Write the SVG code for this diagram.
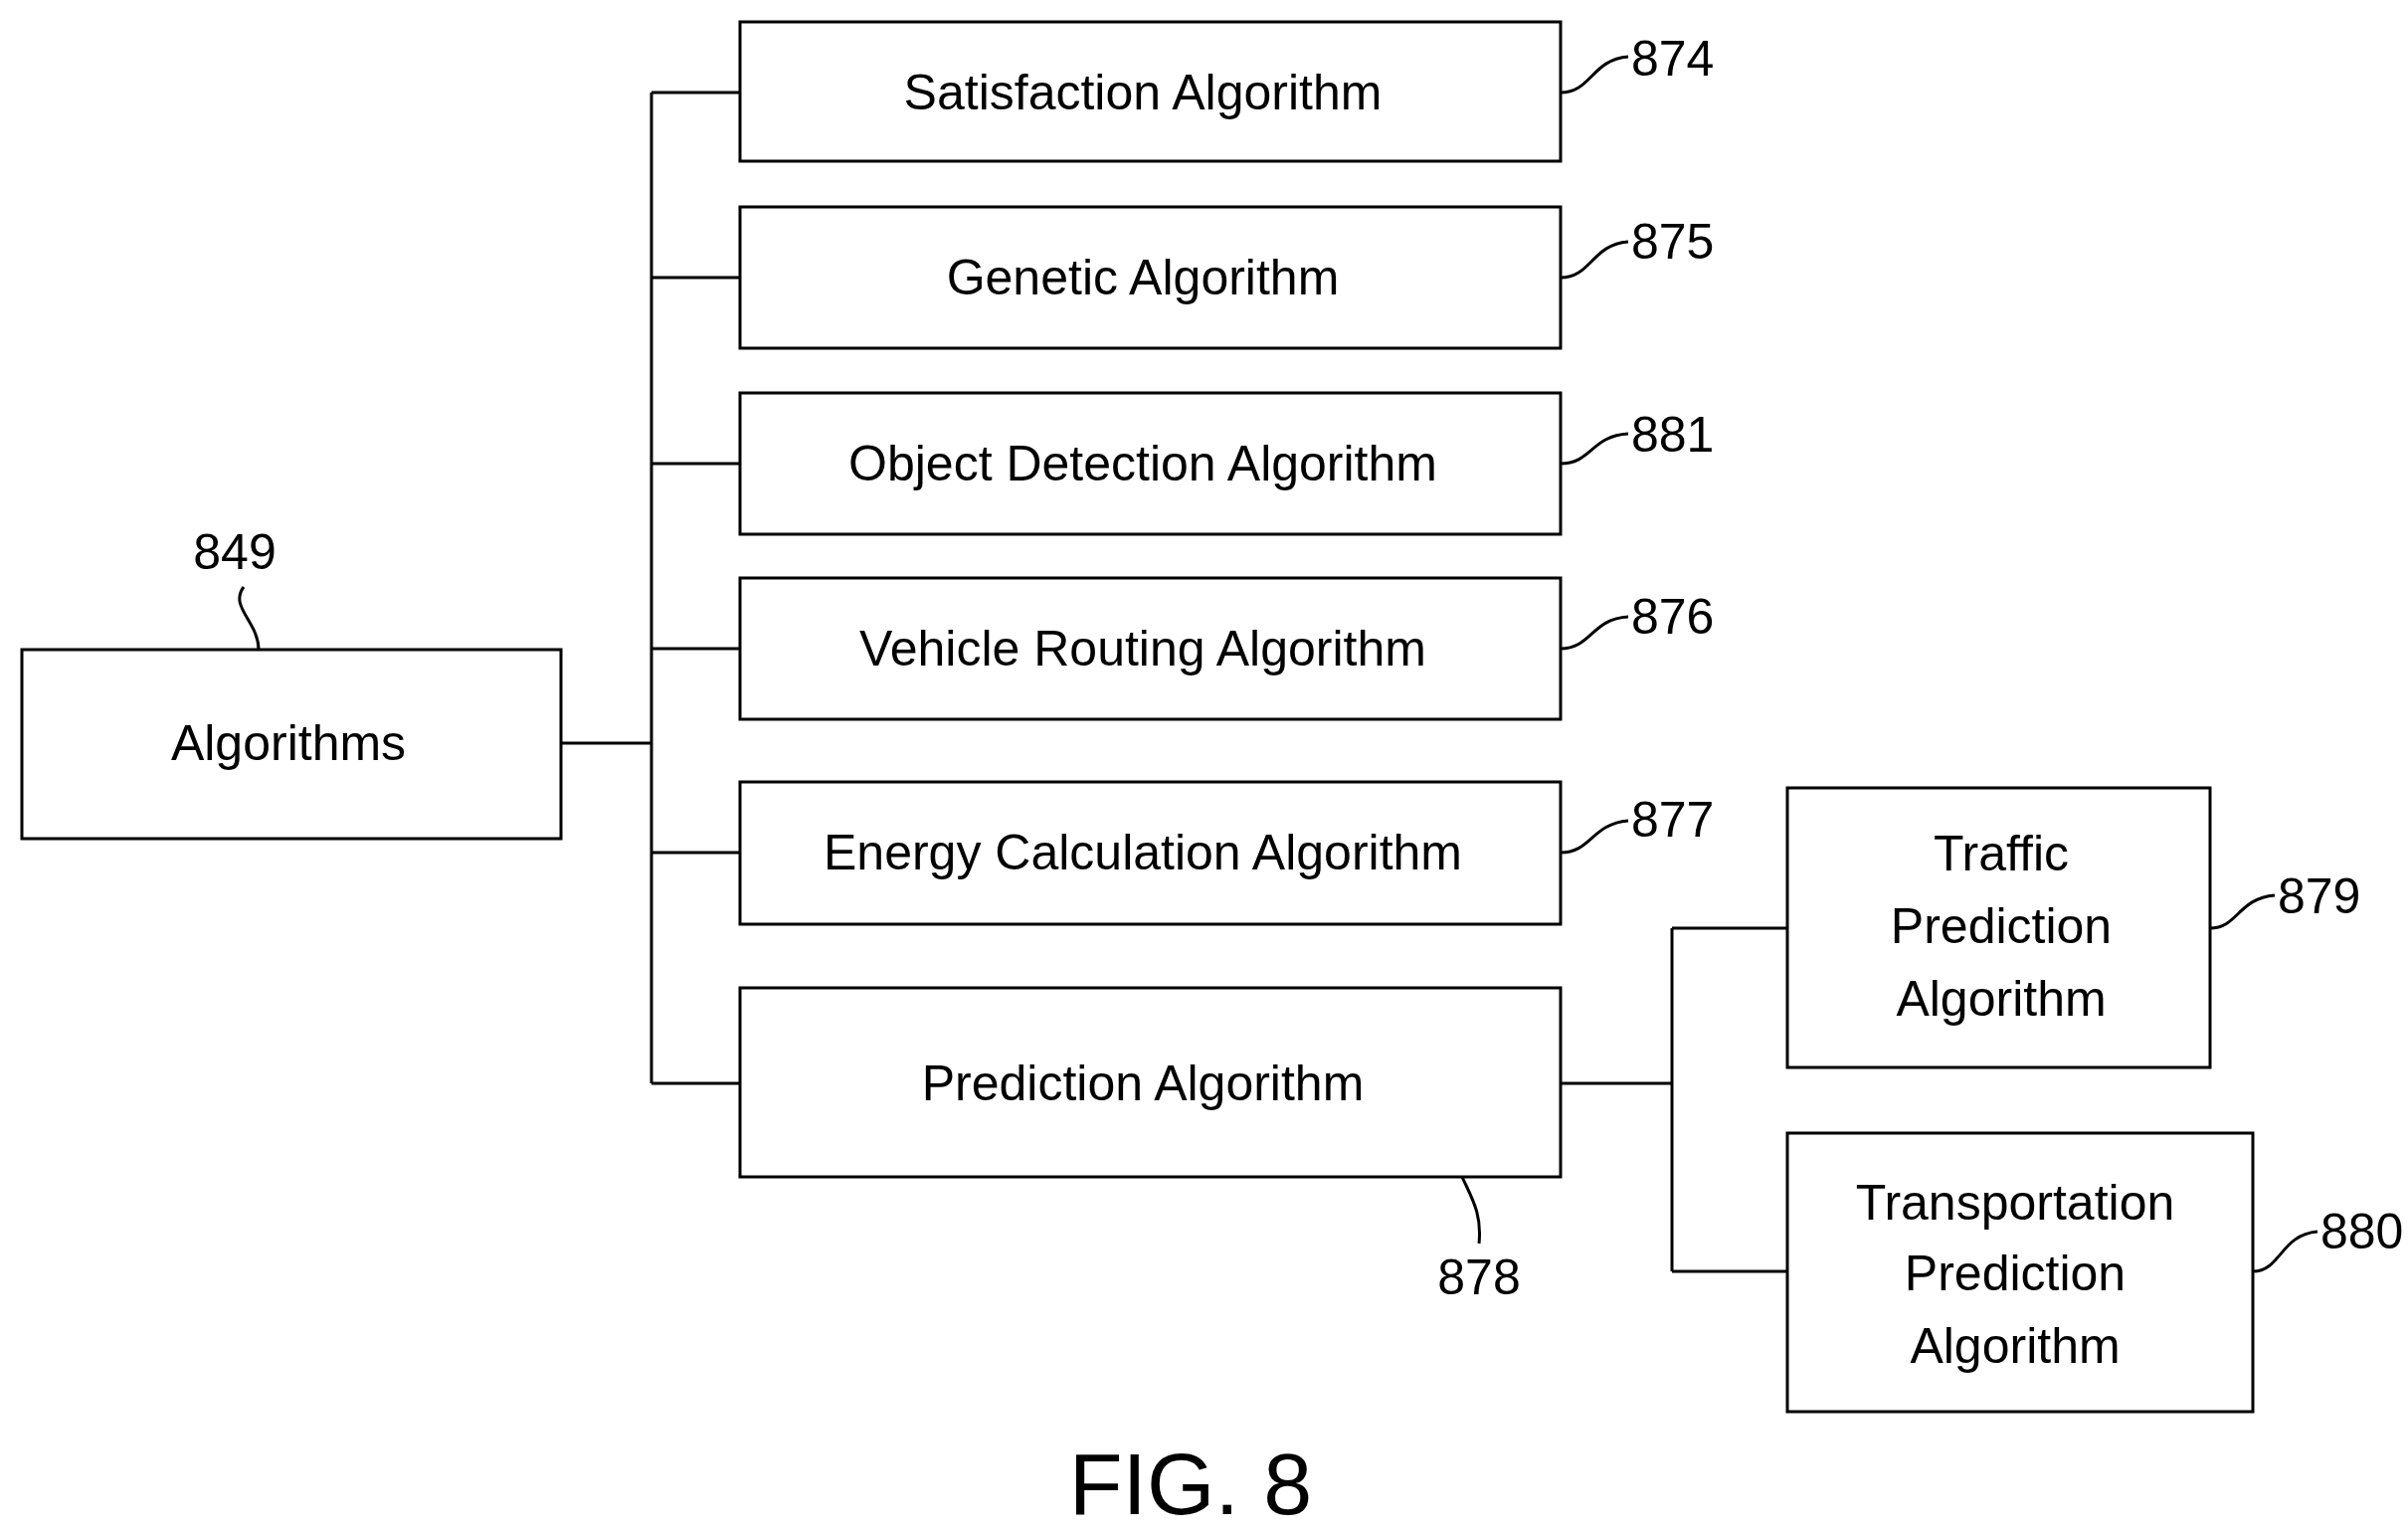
<svg xmlns="http://www.w3.org/2000/svg" width="2421" height="1545" viewBox="0 0 2421 1545">
<style>
.b{fill:#fff;stroke:#000;stroke-width:3}
.t{font-family:"Liberation Sans",Arial,sans-serif;font-size:50px;text-anchor:middle;dominant-baseline:central;transform-box:fill-box}
.n{font-family:"Liberation Sans",Arial,sans-serif;font-size:50px}
.c{fill:none;stroke:#000;stroke-width:3}
</style>
<rect width="2421" height="1545" fill="#fff"/>
<g id="connectors">
<path class="c" d="M564 747H655M655 93V1089M655 93H744M655 279H744M655 466H744M655 652H744M655 857H744M655 1089H744"/>
<path class="c" d="M1569 1089H1681M1681 933V1278M1681 933H1797M1681 1278H1797"/>
<path class="c" d="M1569 93C1600 93 1600 60 1637 57M1569 279C1600 279 1600 246 1637 243M1569 466C1600 466 1600 438 1637 436M1569 652C1600 652 1600 622 1637 620M1569 857C1600 857 1600 828 1637 825M2222 933C2250 933 2250 903 2287 900M2265 1278C2293 1278 2293 1241 2330 1238M245 590C230 610 260 625 260 653M1470 1183C1480 1205 1490 1220 1487 1250"/>
</g>
<g id="n849"><rect class="b" x="22" y="653" width="542" height="190"/><text class="t" x="290" y="747">Algorithms</text><text class="n" x="236" y="572" text-anchor="middle">849</text></g>
<g id="n874"><rect class="b" x="744" y="22" width="825" height="140"/><text class="t" x="1149" y="93">Satisfaction Algorithm</text><text class="n" x="1640" y="76">874</text></g>
<g id="n875"><rect class="b" x="744" y="208" width="825" height="142"/><text class="t" x="1149" y="279">Genetic Algorithm</text><text class="n" x="1640" y="260">875</text></g>
<g id="n881"><rect class="b" x="744" y="395" width="825" height="142"/><text class="t" x="1149" y="466">Object Detection Algorithm</text><text class="n" x="1640" y="454">881</text></g>
<g id="n876"><rect class="b" x="744" y="581" width="825" height="142"/><text class="t" x="1149" y="652">Vehicle Routing Algorithm</text><text class="n" x="1640" y="637">876</text></g>
<g id="n877"><rect class="b" x="744" y="786" width="825" height="143"/><text class="t" x="1149" y="857">Energy Calculation Algorithm</text><text class="n" x="1640" y="841">877</text></g>
<g id="n878"><rect class="b" x="744" y="993" width="825" height="190"/><text class="t" x="1149" y="1089">Prediction Algorithm</text><text class="n" x="1487" y="1301" text-anchor="middle">878</text></g>
<g id="n879"><rect class="b" x="1797" y="792" width="425" height="281"/><text class="t" x="2012" y="858">Traffic</text><text class="t" x="2012" y="931">Prediction</text><text class="t" x="2012" y="1004">Algorithm</text><text class="n" x="2290" y="918">879</text></g>
<g id="n880"><rect class="b" x="1797" y="1139" width="468" height="280"/><text class="t" x="2026" y="1209">Transportation</text><text class="t" x="2026" y="1280">Prediction</text><text class="t" x="2026" y="1353">Algorithm</text><text class="n" x="2333" y="1255">880</text></g>
<text class="n" x="1197" y="1522" text-anchor="middle" style="font-size:88px">FIG. 8</text>
</svg>
